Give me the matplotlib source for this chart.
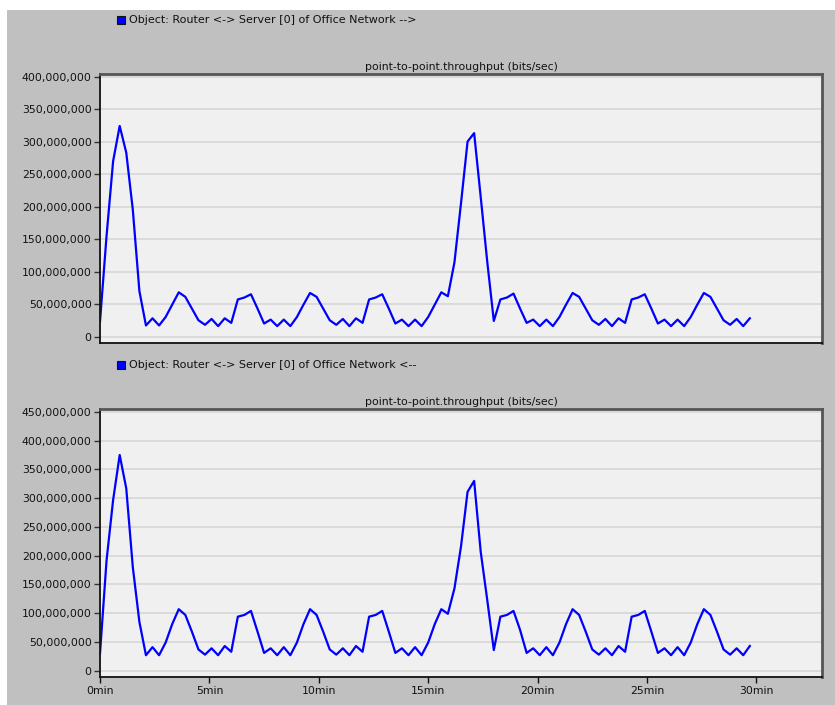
import numpy as np
import matplotlib
matplotlib.use("Agg")
import matplotlib.pyplot as plt
from matplotlib.patches import Rectangle
from matplotlib.ticker import FuncFormatter

# samples every 18 s (0.3 min), values in Mbit/s
t_min = np.arange(100) * 0.3

fwd_mbps = [
    23, 155, 270, 324, 283, 195, 70, 17, 28, 17,
    30, 49, 68, 61, 43, 25, 18, 27, 16, 28,
    21, 57, 60, 65, 43, 20, 26, 16, 26, 16,
    30, 49, 67, 61, 43, 25, 18, 27, 16, 28,
    21, 57, 60, 65, 43, 20, 26, 16, 26, 16,
    30, 49, 68, 62, 114, 205, 300, 313, 215, 115,
    24, 57, 60, 66, 43, 21, 26, 16, 26, 16,
    30, 49, 67, 61, 43, 25, 18, 27, 16, 28,
    21, 57, 60, 65, 43, 20, 26, 16, 26, 16,
    30, 49, 67, 61, 43, 25, 18, 27, 16, 28,
]

back_mbps = [
    30, 192, 297, 375, 317, 180, 85, 27, 41, 27,
    49, 81, 107, 97, 68, 37, 28, 39, 27, 43,
    33, 94, 97, 104, 68, 31, 39, 27, 41, 27,
    49, 81, 107, 97, 68, 37, 28, 39, 27, 43,
    33, 94, 97, 104, 68, 31, 39, 27, 41, 27,
    49, 81, 107, 99, 143, 216, 311, 330, 207, 123,
    36, 94, 97, 104, 71, 31, 39, 27, 41, 27,
    49, 81, 107, 97, 68, 37, 28, 39, 27, 43,
    33, 94, 97, 104, 68, 31, 39, 27, 41, 27,
    49, 81, 107, 97, 68, 37, 28, 39, 27, 43,
]

legend_labels = [
    "Object: Router <-> Server [0] of Office Network -->",
    "Object: Router <-> Server [0] of Office Network <--",
]
panel_title = "point-to-point.throughput (bits/sec)"
x_ticks = [0, 5, 10, 15, 20, 25, 30]

W, H = 835, 705
plt.rcParams['font.family'] = ['DejaVu Sans']
fig = plt.figure(figsize=(W / 100, H / 100), dpi=100, facecolor='white')

# grey window area
fig.patches.append(Rectangle((7 / W, 0), 1 - 7 / W, (H - 10) / H,
                             transform=fig.transFigure, facecolor='#c0c0c0',
                             edgecolor='none', zorder=-10))


def px_box(l, t, r, b):
    return [l / W, 1 - b / H, (r - l) / W, (b - t) / H]


def setup(ax, ymax, ytop, show_x):
    ax.set_facecolor('#f0f0f0')
    ax.set_xlim(0, 33)
    ax.set_ylim(-10e6, ytop)
    ax.set_yticks(np.arange(0, ymax + 1, 50e6))
    ax.yaxis.set_major_formatter(FuncFormatter(lambda v, p: f"{int(v):,}"))
    ax.grid(axis='y', color='#d6d6d6', linewidth=1.2)
    ax.set_axisbelow(True)
    ax.tick_params(axis='y', direction='out', length=4, width=1, color='#333333',
                   labelsize=7.8, labelcolor='#111111', pad=2)
    if show_x:
        ax.set_xticks(x_ticks)
        ax.set_xticklabels([f"{v}min" for v in x_ticks])
        ax.tick_params(axis='x', direction='out', length=4, width=1, color='#111111',
                       labelsize=7.8, labelcolor='#111111', pad=3)
    else:
        ax.set_xticks([])
    for side in ('left', 'bottom'):
        ax.spines[side].set_color('#111111')
        ax.spines[side].set_linewidth(1.3)
    for side in ('top', 'right'):
        ax.spines[side].set_color('#555555')
        ax.spines[side].set_linewidth(2)
    ax.set_title(panel_title, fontsize=7.8, color='#111111', pad=3)


ax1 = fig.add_axes(px_box(100, 74, 822, 343))
ax1.plot(t_min, np.array(fwd_mbps) * 1e6, color='#0000ff', linewidth=1.6)
setup(ax1, 400e6, 404e6, False)

ax2 = fig.add_axes(px_box(100, 409, 822, 676.5))
ax2.plot(t_min, np.array(back_mbps) * 1e6, color='#0000ff', linewidth=1.6)
setup(ax2, 450e6, 455e6, True)

# legend-like labels above each panel
for label, yc in zip(legend_labels, [20, 365]):
    fig.patches.append(Rectangle((117 / W, 1 - (yc + 4) / H), 8 / W, 8 / H,
                                 transform=fig.transFigure, facecolor='#0000ff',
                                 edgecolor='#111111', linewidth=0.8, zorder=3))
    fig.text(129 / W, 1 - yc / H, label, fontsize=8, color='#111111',
             va='center', ha='left')

fig.savefig("out.png", dpi=100, facecolor=fig.get_facecolor())
